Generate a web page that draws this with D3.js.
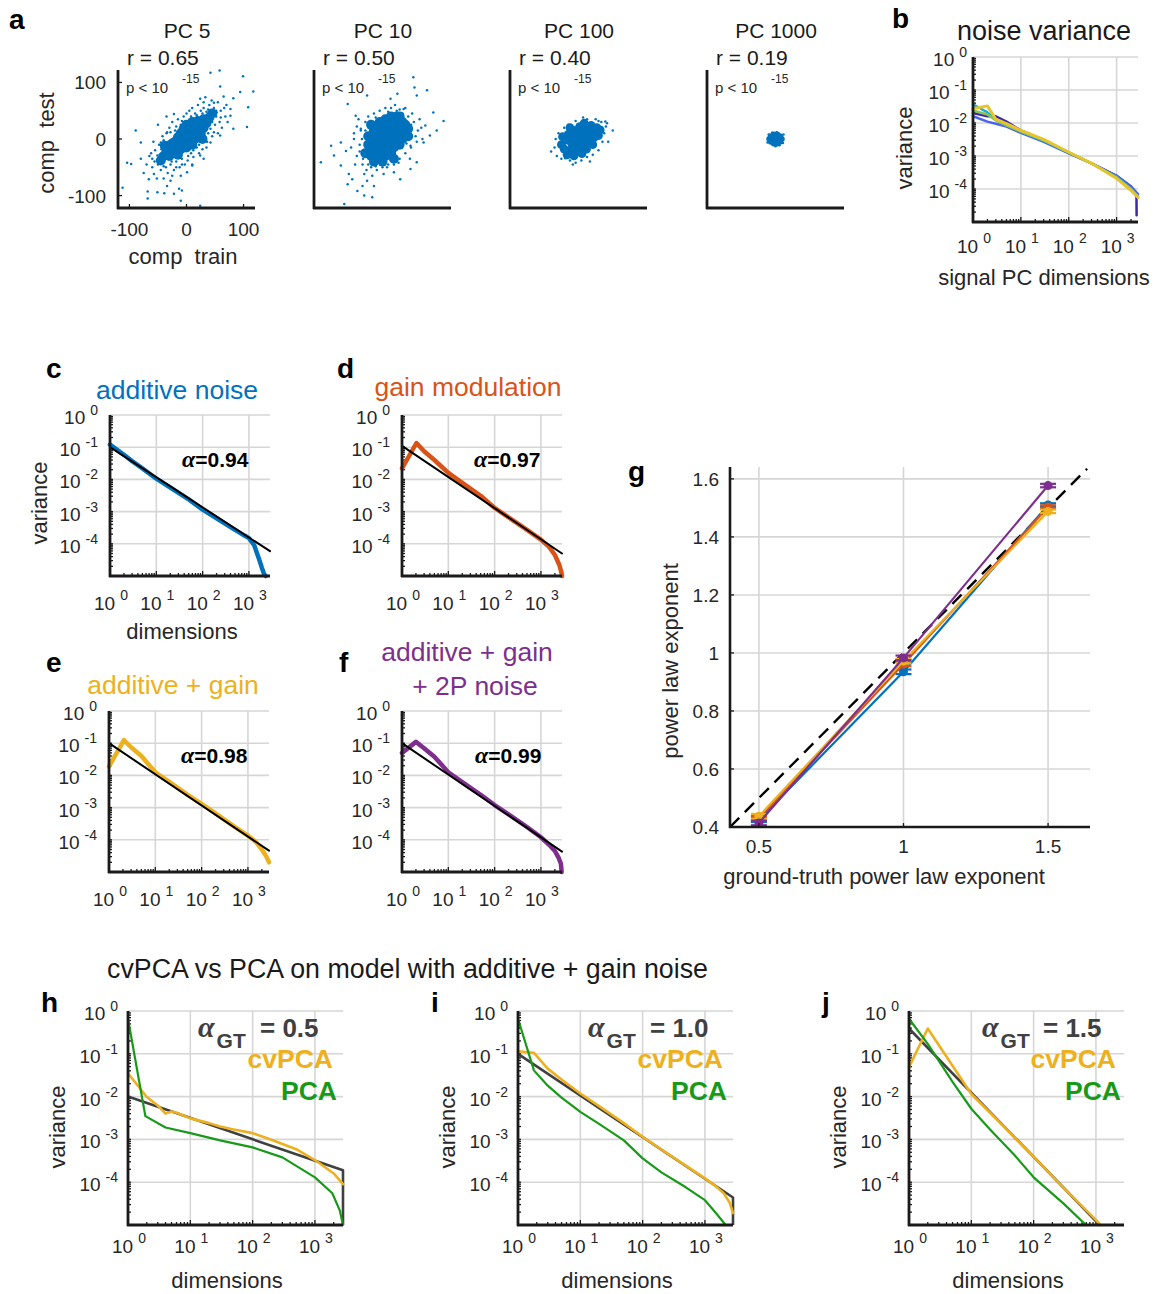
<!DOCTYPE html>
<html><head><meta charset="utf-8">
<script src="https://cdn.jsdelivr.net/npm/d3@7"></script>
<style>
body{margin:0;background:#fff}
text{font-family:"Liberation Sans",Arial,Helvetica,sans-serif;fill:#262626}
</style>
</head><body>
<svg id="fig" width="1155" height="1294"></svg>
<script>
// ---------------- DATA ----------------
// panel a: scatter (comp train, comp test) per PC
const pcTitles = ["PC 5","PC 10","PC 100","PC 1000"];
const pcR = ["r = 0.65","r = 0.50","r = 0.40","r = 0.19"];
const pc5Core = [[-45,-38],[-40,-30],[-38,-12],[-35,-22],[-30,-30],[-30,-15],[-25,-25],[-25,-8],[-20,-20],[-20,-5],[-15,-28],[-15,-12],[-15,3],[-10,-18],[-10,-3],[-10,10],[-5,-10],[-5,5],[-5,18],[0,-15],[0,0],[0,12],[0,25],[5,-5],[5,8],[5,20],[10,-10],[10,3],[10,15],[10,30],[15,0],[15,12],[15,25],[20,5],[20,18],[20,32],[25,10],[25,25],[28,0],[30,20],[30,35],[35,28],[40,38],[45,45]];
const pc5Sparse = [[58,121],[42,117],[99,111],[59,93],[94,83],[117,84],[82,72],[108,56],[48,64],[77,41],[106,21],[-112,-86],[-104,-42],[-97,-44],[-89,15],[-80,-6],[-68,-93],[-68,-105],[-66,-71],[-57,-62],[-51,-94],[-39,-96],[-34,-83],[-28,-74],[-22,-97],[-13,-88],[-10,-109],[1,-59],[-8,-91],[24,-118],[-51,-29],[-60,-35],[-22,44],[24,71],[33,74],[53,47],[77,53],[82,18],[59,6],[42,-6],[24,-29],[10,-47],[-45,-6],[-34,12],
 [-55,-20],[-50,-45],[-48,-10],[-45,-55],[-42,5],[-40,-48],[-38,-25],[-35,10],[-33,-60],[-30,20],[-28,-45],[-25,30],[-22,-55],[-20,15],[-18,-40],[-15,35],[-12,-50],[-10,25],[-8,-35],[-5,40],[-3,-45],[0,45],[3,-30],[5,50],[8,-25],[10,55],[12,-20],[15,45],[18,-15],[20,60],[22,-10],[25,50],[28,-18],[30,55],[32,5],[35,48],[38,10],[40,60],[42,18],[45,30],[48,55],[50,25],[52,40],[55,65],[58,30],[60,50],[62,20],[65,75],[68,40],[70,60],[-60,-50],[-65,-30],[-58,-5],[-70,-45],[-52,-70],[-40,-70],[35,-15],[45,5],[55,10],[-25,-65],[-10,-65],[10,-45],[30,-35],[-35,40],[-50,25],
 [-62,-25],[-56,-40],[-47,-28],[-44,-18],[-36,-50],[-32,-5],[-26,-40],[-18,-50],[-8,-45],[2,-38],[12,-32],[22,-25],[36,-5],[48,12],[52,50],[38,52],[28,45],[18,42],[8,40],[-8,32],[-18,22],[-28,12],[-40,-2],[60,38],[72,30],[66,55],[44,68],[30,65],[-75,-60],[-80,-35]];
const pc10Core = [[-30,-25],[-25,-10],[-25,5],[-20,-30],[-20,-15],[-20,0],[-15,-5],[-15,15],[-10,-25],[-10,-10],[-10,5],[-10,20],[-5,-35],[-5,-15],[-5,0],[-5,15],[-5,30],[0,-25],[0,-8],[0,8],[0,25],[5,-30],[5,-15],[5,0],[5,15],[5,35],[10,-20],[10,-5],[10,10],[10,25],[15,-25],[15,-10],[15,5],[15,20],[15,40],[20,-15],[20,0],[20,15],[20,30],[25,-5],[25,10],[25,25],[30,-10],[30,5],[30,20],[30,40],[35,0],[35,15],[35,30],[40,10],[40,25],[45,18],[-15,-40],[0,-40],[20,-35],[25,40],[-20,25],[45,5]];
const pc10Sparse = [[54,109],[56,91],[78,86],[60,77],[89,47],[107,32],[95,15],[83,6],[72,-6],[-61,62],[-47,41],[-108,-41],[-90,-12],[-85,-29],[-73,-47],[-64,-21],[-61,-80],[-59,-62],[-53,-71],[-44,-92],[-35,-83],[-32,-100],[-27,-74],[-18,-103],[-67,-115],[-15,-83],[31,-71],[20,-59],[49,-53],[60,-41],[-27,77],[14,71],[26,80],[-73,-6],[-50,0],[-38,18],[37,53],[75,24],[49,-12],
 [-45,-30],[-40,-10],[-38,15],[-35,-45],[-30,30],[-28,-55],[-25,40],[-20,-50],[-15,45],[-10,-55],[-5,50],[0,-50],[5,55],[10,-45],[15,55],[20,-45],[25,50],[30,-35],[35,45],[40,-25],[45,40],[50,-15],[55,30],[60,-5],[62,15],[65,35],[-50,10],[-55,-15],[-42,35],[48,-35],[58,5],[68,20],[-32,-62],[-18,-65],[2,-62],[22,60],[40,55],[-48,-45],[70,0],
 [-40,-22],[-36,0],[-34,-35],[-30,15],[-25,-45],[-12,-48],[8,-50],[28,-42],[42,-8],[50,25],[52,45],[30,52],[10,48],[-12,38],[-22,32],[-45,22]];
const pc100Core = [[-30,-10],[-25,-18],[-22,-2],[-18,8],[-15,-20],[-12,-8],[-10,5],[-8,15],[-5,-22],[-3,-10],[0,0],[0,12],[2,22],[5,-15],[7,-4],[9,8],[12,18],[14,-18],[16,-7],[18,4],[20,14],[22,24],[25,-10],[27,2],[29,12],[32,20],[35,6],[-20,-28],[38,16],[-28,4],[-8,-30],[6,-26],[-15,20],[10,28]];
const pc100Sparse = [[-42,-15],[-38,-30],[-35,10],[-30,-35],[-40,0],[-25,20],[-15,-38],[-5,-42],[5,-38],[15,-32],[25,-28],[35,-20],[42,-5],[45,10],[48,22],[40,30],[30,35],[15,35],[-5,32],[-18,25],[50,28],[47,31],[60,15],[-48,-22],[20,-40],[35,32],[-10,-45],[-23,-34],[52,-5],[8,38]];
const pc1000Core = [[-8,-5],[-8,5],[-3,-8],[-3,0],[-3,8],[3,-8],[3,0],[3,8],[8,-5],[8,5],[0,-3],[0,4],[-11,0],[11,0]];
const pc1000Sparse = [[-14,-6],[-12,8],[14,8],[13,-7],[0,-13],[2,12],[-6,11],[7,-11]];

// panel b: noise variance vs signal PC dimension (5 traces)
const bColors = ["#3E26A8","#4A63F0","#17B0D6","#86C45A","#E6C52B"];
const bIndigo = [[1,0.02],[2,0.016],[3,0.016],[5,0.011],[10,0.006],[30,0.003],[100,0.00125],[300,0.0006],[1000,0.00025],[2000,0.00012],[2600,0.00006],[2620,0.000016]];
const bBlue   = [[1,0.016],[2,0.011],[3,0.0095],[5,0.0078],[10,0.005],[30,0.0027],[100,0.0012],[300,0.0006],[1000,0.00025],[2000,0.00012],[2800,0.00007]];
const bCyan   = [[1,0.037],[2,0.021],[3,0.013],[5,0.009],[10,0.0055],[30,0.0029],[100,0.00125],[300,0.0006],[1000,0.00023],[2000,0.0001],[2800,0.00006]];
const bGreen  = [[1,0.024],[2,0.018],[3,0.012],[5,0.0085],[10,0.0055],[30,0.003],[100,0.0013],[300,0.0006],[1000,0.00022],[2000,0.0001],[2800,0.00006]];
const bYellow = [[1,0.027],[2,0.033],[3,0.013],[5,0.0095],[10,0.006],[30,0.0032],[100,0.0013],[300,0.0006],[1000,0.00021],[2000,0.00009],[2800,0.000055]];

// panels c-f: eigenspectra and power-law fits
const cTitle = "additive noise", dTitle = "gain modulation", eTitle = "additive + gain", fTitle = ["additive + gain","+ 2P noise"];
const cAlpha = "=0.94", dAlpha = "=0.97", eAlpha = "=0.98", fAlpha = "=0.99";
const cSpec = [[1,0.12],[2,0.058],[3,0.037],[5,0.022],[10,0.0105],[20,0.0056],[50,0.0024],[100,0.00115],[200,0.00062],[500,0.00027],[800,0.00018],[1000,0.00015],[1300,0.00009],[1500,0.00005],[1700,0.00003],[1900,0.000018],[2100,0.000012],[2300,0.00001]];
const cFit  = [[1,0.1],[2850,0.000059]];
const dSpec = [[1,0.022],[2.05,0.135],[3,0.075],[5,0.04],[10,0.016],[20,0.0078],[50,0.0031],[100,0.0013],[200,0.00066],[500,0.00027],[1000,0.000135],[1500,0.00008],[2000,0.000045],[2500,0.000022],[2800,0.000012],[2850,0.00001]];
const dFit  = [[1,0.11],[2850,0.00005]];
const eSpec = [[1,0.019],[2.1,0.125],[3,0.075],[5,0.04],[10,0.0125],[20,0.0063],[50,0.0025],[100,0.0013],[200,0.00066],[500,0.00026],[1000,0.000135],[1500,0.000085],[2000,0.00005],[2500,0.00003],[2850,0.00002]];
const eFit  = [[1,0.1],[2850,0.000046]];
const fSpec = [[1,0.05],[2,0.11],[3,0.07],[5,0.038],[10,0.0125],[20,0.0062],[50,0.0025],[100,0.0012],[200,0.00062],[500,0.00025],[1000,0.00012],[1500,0.00007],[2000,0.000045],[2400,0.000028],[2700,0.000018],[2800,0.00001]];
const fFit  = [[1,0.1],[2850,0.000043]];

// panel g: fitted vs ground-truth exponent
const gtExp = [0.5, 1, 1.5];
const gBlue   = [0.425, 0.935, 1.51];
const gOrange = [0.43, 0.962, 1.503];
const gYellow = [0.437, 0.972, 1.488];
const gPurple = [0.414, 0.983, 1.577];
const gErr    = [0.008, 0.008, 0.006];
const gIdentity = [[0.4,0.4],[1.635,1.635]];
const gYTicks = [0.4,0.6,0.8,1,1.2,1.4,1.6];
const gXTicks = [0.5,1,1.5];

// panels h-j: cvPCA vs PCA
const hGT  = [[1,0.01],[2820,0.00019],[2820,0.00001]];
const hCv  = [[1,0.035],[2,0.0098],[3,0.0062],[4,0.004],[5,0.0045],[6,0.0042],[10,0.0031],[20,0.0024],[30,0.002],[50,0.0017],[100,0.0014],[200,0.00098],[500,0.00059],[1000,0.00033],[2000,0.00016],[2820,0.00009]];
const hPCA = [[1,0.66],[1.9,0.0035],[4,0.0019],[10,0.0014],[30,0.00095],[100,0.00065],[300,0.00038],[1000,0.00013],[1900,0.000055],[2500,0.000022],[2820,0.00001]];
const iGT  = [[1,0.1],[2820,0.000044],[2820,0.00001]];
const iCv  = [[1,0.115],[1.8,0.105],[3,0.045],[5,0.025],[10,0.0118],[20,0.006],[50,0.0024],[100,0.00115],[200,0.00058],[500,0.00024],[1000,0.000123],[1500,0.00008],[2000,0.000055],[2500,0.000033],[2820,0.000019]];
const iPCA = [[1,0.66],[1.8,0.041],[3,0.018],[5,0.0095],[10,0.0044],[20,0.0023],[50,0.00095],[100,0.00036],[200,0.00017],[500,0.000075],[1000,0.000038],[1500,0.000019],[2150,0.00001]];
const jGT  = [[1,0.39],[1150,0.00001]];
const jCv  = [[1,0.049],[2,0.39],[10,0.0115],[20,0.0042],[50,0.0011],[100,0.00039],[300,0.000075],[1000,0.0000132],[1180,0.00001]];
const jPCA = [[1,0.66],[2,0.17],[5,0.022],[10,0.0052],[20,0.0017],[50,0.00042],[100,0.00013],[300,0.000032],[690,0.00001]];
const alphaGT = ["= 0.5","= 1.0","= 1.5"];

// log-axis tick labels
const xMajor = [1,10,100,1000], xExp = ["0","1","2","3"];
const yMajor = [1,0.1,0.01,0.001,0.0001], yExp = ["0","-1","-2","-3","-4"];

// ---------------- DRAWING ----------------
const svg = d3.select("#fig");
svg.append("rect").attr("width",1155).attr("height",1294).attr("fill","#fff");
const AX="#1a1a1a", GRID="#d6d6d6", TXT="#262626";
const BLUE="#0072BD", ORANGE="#D95319", YELLOW="#EDB120", PURPLE="#7E2F8E", GREEN="#189A18", GRAY="#404040";

function txt(x,y,s,o={}){
  const t=svg.append("text").attr("x",x).attr("y",y).text(s).attr("font-size",o.size||20);
  if(o.anchor) t.attr("text-anchor",o.anchor);
  if(o.weight) t.attr("font-weight",o.weight);
  if(o.fill) t.style("fill",o.fill);
  if(o.rotate) t.attr("transform",`rotate(-90,${x},${y})`);
  if(o.family) t.style("font-family",o.family);
  if(o.pre) t.style("white-space","pre");
  return t;
}
function pow(g,x,y,e,anchor,fs=18,fe=14,raise=11,gap=4){
  const t=g.append("text").attr("x",x).attr("y",y).attr("text-anchor",anchor).attr("font-size",fs);
  t.append("tspan").text("10");
  t.append("tspan").attr("dx",gap).attr("dy",-raise).attr("font-size",fe).text(e);
}
const yDom=[1e-5,1];

function logPanel(p){
  const g=svg.append("g");
  const x=d3.scaleLog().domain(p.xd).range([p.l,p.r]);
  const y=d3.scaleLog().domain(yDom).range([p.b,p.t]);
  g.selectAll(null).data(xMajor.slice(1)).join("line")
    .attr("x1",d=>x(d)).attr("x2",d=>x(d)).attr("y1",p.b).attr("y2",p.t)
    .attr("stroke",GRID).attr("stroke-width",1.6);
  g.selectAll(null).data(yMajor).join("line")
    .attr("y1",d=>y(d)).attr("y2",d=>y(d)).attr("x1",p.l).attr("x2",p.r)
    .attr("stroke",GRID).attr("stroke-width",1.6);
  const xm=[], ym=[];
  for(let k=0;k<4;k++) for(let m=1;m<10;m++){const v=m*Math.pow(10,k); if(v<=p.xd[1]) xm.push(v);}
  for(let k=-5;k<0;k++) for(let m=1;m<10;m++){const v=m*Math.pow(10,k); if(v<=1) ym.push(v);}
  g.selectAll(null).data(xm).join("line").attr("x1",d=>x(d)).attr("x2",d=>x(d))
    .attr("y1",p.b).attr("y2",d=>p.b-(String(d).match(/^10*$/)?5:3)).attr("stroke",AX).attr("stroke-width",1.3);
  g.selectAll(null).data(ym).join("line").attr("y1",d=>y(d)).attr("y2",d=>y(d))
    .attr("x1",p.l).attr("x2",p.l+3).attr("stroke",AX).attr("stroke-width",1.3);
  const line=d3.line().x(d=>x(d[0])).y(d=>y(d[1]));
  p.series.forEach(s=>{
    g.append("path").datum(s.data).attr("d",line).attr("fill","none")
      .attr("stroke",s.color).attr("stroke-width",s.w).attr("stroke-linejoin","round").attr("stroke-linecap",s.cap||"round");
  });
  g.append("line").attr("x1",p.l).attr("x2",p.l).attr("y1",p.b+1).attr("y2",p.t).attr("stroke",AX).attr("stroke-width",2.8);
  g.append("line").attr("x1",p.l-1).attr("x2",p.r).attr("y1",p.b).attr("y2",p.b).attr("stroke",AX).attr("stroke-width",2.8);
  xMajor.forEach((v,i)=>pow(g,x(v)+1,p.b+p.xlab,xExp[i],"middle",19,14,10,5));
  yMajor.forEach((v,i)=>pow(g,p.l-p.ylab,y(v)+9,yExp[i],"end",19,14,9,5));
  return {x,y,g};
}

// ---- panel a ----
txt(9,29,"a",{size:28,weight:"bold",fill:"#000"});
const scX=[-120,120], scY=[-122,122];
const scLefts=[118,314,510,707];
const pcCores=[pc5Core,pc10Core,pc100Core,pc1000Core], pcSparse=[pc5Sparse,pc10Sparse,pc100Sparse,pc1000Sparse];
const coreR=[5,5,4.4,3];
scLefts.forEach((L,i)=>{
  const x=d3.scaleLinear().domain(scX).range([L,L+137]);
  const y=d3.scaleLinear().domain(scY).range([208,70]);
  const g=svg.append("g");
  g.selectAll(null).data(pcCores[i]).join("circle").attr("cx",d=>x(d[0])).attr("cy",d=>y(d[1])).attr("r",coreR[i]).attr("fill",BLUE);
  g.selectAll(null).data(pcSparse[i]).join("circle").attr("cx",d=>x(d[0])).attr("cy",d=>y(d[1])).attr("r",1.25).attr("fill",BLUE);
  g.append("line").attr("x1",L).attr("x2",L).attr("y1",209).attr("y2",70).attr("stroke",AX).attr("stroke-width",2.8);
  g.append("line").attr("x1",L-1).attr("x2",L+137).attr("y1",208).attr("y2",208).attr("stroke",AX).attr("stroke-width",2.8);
  txt(L+69,38,pcTitles[i],{size:21,anchor:"middle",fill:"#1a1a1a"});
  txt(L+9,65,pcR[i],{size:21,fill:"#1a1a1a"});
  txt(L+8,93,"p < 10",{size:15});
  txt(L+64,83,"-15",{size:12});
  if(i===0){
    [-100,0,100].forEach(v=>{
      g.append("line").attr("x1",L).attr("x2",L+4).attr("y1",y(v)).attr("y2",y(v)).attr("stroke",AX).attr("stroke-width",1.3);
      g.append("line").attr("x1",x(v)).attr("x2",x(v)).attr("y1",208).attr("y2",204).attr("stroke",AX).attr("stroke-width",1.3);
      txt(L-12,y(v)+7,String(v),{size:19,anchor:"end"});
      txt(x(v),236,String(v),{size:19,anchor:"middle"});
    });
  }
});
txt(54,143,"comp  test",{size:22,anchor:"middle",rotate:true,pre:true});
txt(183,264,"comp  train",{size:22,anchor:"middle",pre:true});

// ---- panel b ----
txt(892,28,"b",{size:28,weight:"bold",fill:"#000"});
txt(1044,40,"noise variance",{size:27,anchor:"middle",fill:"#1a1a1a"});
logPanel({l:973,r:1138,t:57,b:222,xd:[1,2800],xlab:31,ylab:6,
  series:[{data:bIndigo,color:bColors[0],w:2.5},{data:bBlue,color:bColors[1],w:2.5},{data:bCyan,color:bColors[2],w:2.5},{data:bGreen,color:bColors[3],w:2.5},{data:bYellow,color:bColors[4],w:3}]});
txt(912,148,"variance",{size:22,anchor:"middle",rotate:true});
txt(1044,285,"signal PC dimensions",{size:22,anchor:"middle"});

// ---- panels c-f ----
function specPanel(l,t,title,titleColor,spec,fit,alpha,alphaX){
  const b=t+161;
  logPanel({l:l,r:l+160,t:t,b:b,xd:[1,2850],xlab:34,ylab:12,
    series:[{data:spec,color:titleColor,w:4.5},{data:fit,color:"#000",w:2}]});
  const a=svg.append("text").attr("x",alphaX).attr("y",t+52).attr("font-size",21).attr("font-weight","bold").style("fill","#000");
  a.append("tspan").style("font-family","'Liberation Serif','DejaVu Serif',serif").style("font-style","italic").attr("font-size",24).text("α");
  a.append("tspan").text(alpha);
}
txt(46,378,"c",{size:28,weight:"bold",fill:"#000"});
txt(177,399,cTitle,{size:26.5,anchor:"middle",fill:BLUE});
specPanel(110,415,cTitle,BLUE,cSpec,cFit,cAlpha,182);
txt(47,503,"variance",{size:22,anchor:"middle",rotate:true});
txt(182,639,"dimensions",{size:22,anchor:"middle"});

txt(337,378,"d",{size:28,weight:"bold",fill:"#000"});
txt(468,396,dTitle,{size:26.5,anchor:"middle",fill:ORANGE});
specPanel(402,415,dTitle,ORANGE,dSpec,dFit,dAlpha,474);

txt(46,672,"e",{size:28,weight:"bold",fill:"#000"});
txt(173,694,eTitle,{size:26.5,anchor:"middle",fill:YELLOW});
specPanel(109,711,eTitle,YELLOW,eSpec,eFit,eAlpha,181);

txt(339,672,"f",{size:28,weight:"bold",fill:"#000"});
txt(467,661,fTitle[0],{size:26.5,anchor:"middle",fill:PURPLE});
txt(475,695,fTitle[1],{size:26.5,anchor:"middle",fill:PURPLE});
specPanel(402,711,fTitle[0],PURPLE,fSpec,fFit,fAlpha,475);

// ---- panel g ----
(function(){
  txt(628,481,"g",{size:28,weight:"bold",fill:"#000"});
  const x=d3.scaleLinear().domain([0.4,1.645]).range([730,1090]);
  const y=d3.scaleLinear().domain([0.4,1.641]).range([827,467]);
  const g=svg.append("g");
  g.selectAll(null).data(gXTicks).join("line").attr("x1",d=>x(d)).attr("x2",d=>x(d)).attr("y1",827).attr("y2",467).attr("stroke",GRID).attr("stroke-width",1.6);
  g.selectAll(null).data(gYTicks).join("line").attr("y1",d=>y(d)).attr("y2",d=>y(d)).attr("x1",730).attr("x2",1090).attr("stroke",GRID).attr("stroke-width",1.6);
  g.append("path").datum(gIdentity).attr("d",d3.line().x(d=>x(d[0])).y(d=>y(d[1])))
    .attr("fill","none").attr("stroke","#000").attr("stroke-width",2.4).attr("stroke-dasharray","13,8");
  const series=[[gBlue,BLUE],[gOrange,ORANGE],[gYellow,YELLOW],[gPurple,PURPLE]];
  series.forEach(([vals,col])=>{
    const pts=gtExp.map((v,i)=>[v,vals[i],gErr[i]]);
    g.append("path").datum(pts).attr("d",d3.line().x(d=>x(d[0])).y(d=>y(d[1])))
      .attr("fill","none").attr("stroke",col).attr("stroke-width",2.2);
    pts.forEach(p=>{
      g.append("line").attr("x1",x(p[0])).attr("x2",x(p[0])).attr("y1",y(p[1]-p[2])).attr("y2",y(p[1]+p[2])).attr("stroke",col).attr("stroke-width",2);
      [p[1]-p[2],p[1]+p[2]].forEach(v=>g.append("line").attr("x1",x(p[0])-8).attr("x2",x(p[0])+8).attr("y1",y(v)).attr("y2",y(v)).attr("stroke",col).attr("stroke-width",2.2));
      g.append("circle").attr("cx",x(p[0])).attr("cy",y(p[1])).attr("r",4.5).attr("fill",col);
    });
  });
  g.append("line").attr("x1",730).attr("x2",730).attr("y1",828).attr("y2",467).attr("stroke",AX).attr("stroke-width",2.6);
  g.append("line").attr("x1",729).attr("x2",1090).attr("y1",827).attr("y2",827).attr("stroke",AX).attr("stroke-width",2.6);
  gYTicks.forEach(v=>{ txt(719,y(v)+7,String(v),{size:19,anchor:"end"});
    g.append("line").attr("x1",730).attr("x2",734).attr("y1",y(v)).attr("y2",y(v)).attr("stroke",AX).attr("stroke-width",1.3);});
  gXTicks.forEach(v=>{ txt(x(v),853,String(v),{size:19,anchor:"middle"});
    g.append("line").attr("x1",x(v)).attr("x2",x(v)).attr("y1",827).attr("y2",823).attr("stroke",AX).attr("stroke-width",1.3);});
  txt(678,661,"power law exponent",{size:22,anchor:"middle",rotate:true});
  txt(884,884,"ground-truth power law exponent",{size:22,anchor:"middle"});
})();

// ---- panels h-j ----
txt(107,978,"cvPCA vs PCA on model with additive + gain noise",{size:26.8,fill:"#1a1a1a"});
const hijL=[128,518,909], hijLetters=["h","i","j"];
const hijData=[[hGT,hCv,hPCA],[iGT,iCv,iPCA],[jGT,jCv,jPCA]];
const hijAlphaX=[198,588,982], hijEqX=[260,650,1043], hijCvR=[333,723,1116], hijPcaR=[337,727,1121];
hijL.forEach((L,i)=>{
  txt(L-87,1012,hijLetters[i],{size:28,weight:"bold",fill:"#000"});
  const [gt,cv,pc]=hijData[i];
  logPanel({l:L,r:L+215,t:1011,b:1225,xd:[1,2820],xlab:28,ylab:10,
    series:[{data:gt,color:GRAY,w:2.6,cap:"butt"},{data:cv,color:YELLOW,w:2.6},{data:pc,color:GREEN,w:2.2}]});
  const a=svg.append("text").attr("x",hijAlphaX[i]).attr("y",1037).attr("font-weight","bold").style("fill",GRAY);
  a.append("tspan").attr("font-size",30).style("font-family","'Liberation Serif','DejaVu Serif',serif").style("font-style","italic").text("α");
  a.append("tspan").attr("font-size",21).attr("dy",11).attr("dx",2).text("GT");
  txt(hijEqX[i],1037,alphaGT[i],{size:26,weight:"bold",fill:GRAY});
  txt(hijCvR[i],1068,"cvPCA",{size:26.5,weight:"bold",fill:YELLOW,anchor:"end"});
  txt(hijPcaR[i],1100,"PCA",{size:26.5,weight:"bold",fill:GREEN,anchor:"end"});
  txt(L-63,1127,"variance",{size:22,anchor:"middle",rotate:true});
  txt(L+99,1288,"dimensions",{size:22,anchor:"middle"});
});
</script>
</body></html>
